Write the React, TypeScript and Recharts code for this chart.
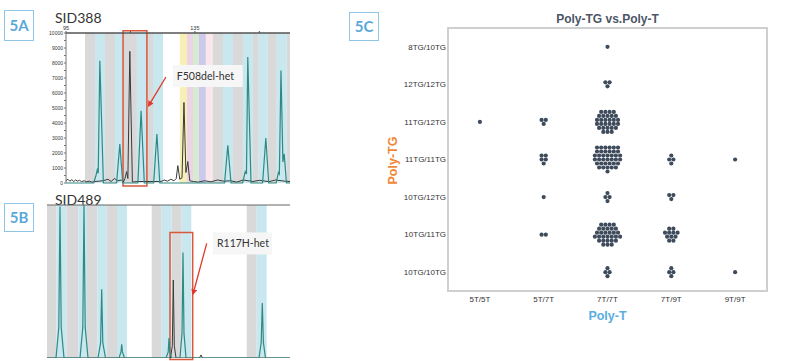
import React from 'react';
import {
  ComposedChart, Line, XAxis, YAxis, ReferenceArea, ReferenceLine, ReferenceDot,
  ScatterChart, Scatter,
} from 'recharts';

// ---------- 5A : SID388 ----------
const sizeTicksA = [95, 115, 135, 155];
const sizeLabelsA = [95, 135];
const rfuTicksA = [0, 500, 1000, 1500, 2000, 2500, 3000, 3500, 4000, 4500, 5000,
  5500, 6000, 6500, 7000, 7500, 8000, 8500, 9000, 9500, 10000];

// bins: [from, to, kind]
const binsA: [number, number, string][] = [
  [100.9, 104.0, 'gray'], [104.0, 107.1, 'cyan'], [107.1, 110.2, 'gray'], [110.2, 112.7, 'cyan'],
  [112.7, 117.0, 'gray'], [117.0, 120.1, 'cyan'], [120.1, 122.0, 'gray'], [122.0, 125.1, 'cyan'],
  [130.3, 132.5, 'yellow'], [132.5, 134.4, 'pink'], [134.4, 136.2, 'green'], [136.2, 138.4, 'purple'],
  [138.4, 140.6, 'blush'], [140.6, 143.7, 'gray'], [143.7, 146.8, 'cyan'], [146.8, 149.9, 'gray'],
  [149.9, 153.0, 'cyan'], [153.0, 154.8, 'gray'], [154.8, 157.6, 'cyan'], [157.6, 160.4, 'gray'],
  [160.4, 163.5, 'cyan'], [163.5, 164.5, 'gray'],
];

// trace points: [size, rfu]
const tealA: [number, number][] = [
  [95, 0], [103.6, 0], [104.3, 500], [104.7, 870], [105.0, 650], [105.5, 8150], [106.6, 0],
  [110.7, 0], [111.7, 2600], [112.6, 0],
  [117.3, 0], [118.3, 4810], [119.3, 0],
  [122.2, 0], [123.2, 3270], [124.1, 0],
  [144.2, 0], [145.2, 2520], [146.2, 0],
  [149.8, 0], [150.6, 760], [151.0, 600], [151.4, 8400], [152.4, 0],
  [156.0, 0], [157.0, 3000], [157.9, 0],
  [160.2, 0], [160.9, 700], [161.2, 600], [161.7, 7500], [162.3, 1400], [162.7, 1940], [163.4, 0],
  [164.5, 0],
];
const blackA: [number, number][] = [
  [95, 150], [95.6, 250], [96.2, 120], [96.8, 220], [97.4, 100], [98, 200], [98.6, 120],
  [99.2, 180], [99.8, 90], [100.6, 150], [101.4, 80], [102.2, 120], [103, 60], [104, 100],
  [106.5, 150], [108, 250], [109, 100], [110, 300], [111, 150], [112.2, 200], [112.8, 60],
  [113.3, 300], [113.8, 760], [114.2, 300], [114.8, 8775], [115.6, 60], [117, 100],
  [124.5, 100], [125.5, 200], [126.5, 120], [127.5, 250], [128.5, 150], [129.2, 300],
  [129.7, 1160], [130.3, 250], [131.0, 350], [131.6, 5370], [132.2, 700], [132.8, 1430],
  [133.4, 150], [134.5, 100], [136, 60], [138, 150], [140, 80], [142, 200], [144, 120],
  [146, 150], [148, 60], [150, 200], [153, 100], [155, 180], [158, 90], [160, 200],
  [163, 120], [164.5, 100],
];
const boxA = { x1: 112.7, x2: 120.1, y1: -200, y2: 10150 };
const noteA = { text: 'F508del-het', x: 139.0, y: 7133, w: 70 };
const arrowA = [{ x: 126.0, y: 7067 }, { x: 120.4, y: 5067 }];

// ---------- 5B : SID489 ----------
const binsB: [number, number, string][] = [
  [0, 9.5, 'gray'], [9.5, 19.5, 'cyan'], [19.5, 31.3, 'gray'], [31.3, 40, 'cyan'],
  [40, 50.3, 'gray'], [50.3, 59.7, 'cyan'], [59.7, 70, 'gray'], [70, 80, 'cyan'],
  [104.7, 114.7, 'gray'], [114.7, 124.7, 'cyan'], [124.7, 134.7, 'gray'], [134.7, 144.3, 'cyan'],
  [199.7, 209.7, 'gray'], [209.7, 219.7, 'cyan'],
];
const tealB: [number, number][] = [
  [0, 0], [9, 0], [11.8, 20], [13, 99], [14.2, 20], [17, 0],
  [33, 0], [35.8, 20], [37, 100], [38.2, 20], [41, 0],
  [51, 0], [53.6, 10], [54.7, 45], [55.8, 10], [58.5, 0],
  [72, 0], [74, 4], [74.7, 9], [75.4, 4], [77.5, 0],
  [119, 0], [121.2, 4], [122, 13], [122.8, 4], [124.5, 0],
  [133, 0], [135, 16], [136, 69], [137, 16], [139, 0],
  [212, 0], [214.2, 10], [215.3, 36], [216.4, 10], [218.5, 0], [243, 0],
];
const blackB: [number, number][] = [
  [0, 0], [123.5, 0], [125.3, 8], [126.3, 51], [127.3, 8], [129, 0],
  [152.5, 0], [154, 2], [155.5, 0], [243, 0],
];
const boxB = { x1: 123, x2: 145.7, y1: -1, y2: 82 };
const noteB = { text: 'R117H-het', x: 195.5, y: 74.9, w: 59 };
const arrowB = [{ x: 159.7, y: 74.9 }, { x: 145.7, y: 41 }];

// ---------- 5C : Poly-TG vs Poly-T ----------
const polyT = ['5T/5T', '5T/7T', '7T/7T', '7T/9T', '9T/9T'];
const polyTG = ['10TG/10TG', '10TG/11TG', '10TG/12TG', '11TG/11TG', '11TG/12TG', '12TG/12TG', '8TG/10TG'];
// samples per cell, counted row by row from the top of each swarm
const swarmCells: [string, string, number[]][] = [
  ['7T/7T', '8TG/10TG', [1]],
  ['7T/7T', '12TG/12TG', [2, 1]],
  ['5T/5T', '11TG/12TG', [1]],
  ['5T/7T', '11TG/12TG', [2, 1]],
  ['7T/7T', '11TG/12TG', [4, 5, 6, 6, 5, 3]],
  ['5T/7T', '11TG/11TG', [2, 2, 1]],
  ['7T/7T', '11TG/11TG', [6, 6, 7, 7, 6, 5, 1]],
  ['7T/9T', '11TG/11TG', [1, 2, 1]],
  ['9T/9T', '11TG/11TG', [1]],
  ['5T/7T', '10TG/12TG', [1]],
  ['7T/7T', '10TG/12TG', [1, 2, 1]],
  ['7T/9T', '10TG/12TG', [2, 1]],
  ['5T/7T', '10TG/11TG', [2]],
  ['7T/7T', '10TG/11TG', [4, 5, 6, 7, 5, 3]],
  ['7T/9T', '10TG/11TG', [2, 4, 3, 2]],
  ['7T/7T', '10TG/10TG', [1, 2, 1]],
  ['7T/9T', '10TG/10TG', [1, 2, 1]],
  ['9T/9T', '10TG/10TG', [1]],
];

const binColors: Record<string, string> = {
  gray: '#d9d9d9', cyan: '#c9e7ef', yellow: '#f7efb4', pink: '#ecd4e6',
  green: '#d6ebcf', purple: '#cdc9ea', blush: '#f9e7eb',
};

const toPts = (arr: [number, number][]) => arr.map(([x, y]) => ({ x, y }));

// hex-ish swarm: each row centred on the category, 4.2px apart
const DOT_STEP_X = 4.2;
const DOT_STEP_Y = 4;
const swarmPoints = swarmCells.flatMap(([t, tg, rows]) => {
  const x = polyT.indexOf(t);
  const y = polyTG.indexOf(tg);
  return rows.flatMap((n, r) =>
    Array.from({ length: n }, (_, j) => ({
      x, y,
      dx: (j - (n - 1) / 2) * DOT_STEP_X,
      dy: (r - (rows.length - 1) / 2) * DOT_STEP_Y,
    })));
});

const SwarmDot = (p: any) => {
  const d = p.payload || p;
  return <circle cx={p.cx + d.dx} cy={p.cy + d.dy} r={2.1} fill="#3e4b5c" />;
};

const RedArrow = (p: any) => {
  const { x1, y1, x2, y2 } = p;
  const a = Math.atan2(y2 - y1, x2 - x1);
  const L = 6, W = 3;
  const bx = x2 - L * Math.cos(a), by = y2 - L * Math.sin(a);
  const pts = `${x2},${y2} ${bx + W * Math.sin(a)},${by - W * Math.cos(a)} ${bx - W * Math.sin(a)},${by + W * Math.cos(a)}`;
  return (
    <g>
      <line x1={x1} y1={y1} x2={bx} y2={by} stroke="#e3372b" strokeWidth={1.3} />
      <polygon points={pts} fill="#e3372b" />
    </g>
  );
};

const noteShape = (text: string, w: number) => (p: any) => (
  <g>
    <rect x={p.cx - w / 2} y={p.cy - 11} width={w} height={22} fill="#f6f6f6" />
    <text x={p.cx - w / 2 + 4} y={p.cy + 4} fontSize={10.5} fontFamily="Lato" fill="#333">{text}</text>
  </g>
);

const PanelTag = ({ label, left, top, h }: { label: string; left: number; top: number; h: number }) => (
  <div style={{
    position: 'absolute', left, top, width: 28, height: h, border: '1.5px solid #8fc6e8',
    color: '#5aa8da', fontFamily: 'Lato', fontWeight: 700, fontSize: 15, lineHeight: `${h}px`,
    textAlign: 'center',
  }}>{label}</div>
);

const SidText = ({ text, top }: { text: string; top: number }) => (
  <div style={{ position: 'absolute', left: 55, top, fontFamily: 'Lato', fontSize: 14, lineHeight: '14px', color: '#333' }}>
    {text}
  </div>
);

export default function App() {
  return (
    <div style={{
      position: 'absolute', left: 0, top: 0, width: 785, height: 361, background: '#fff',
      overflow: 'hidden', fontFamily: '"Liberation Sans", Arial, sans-serif',
    }}>
      <PanelTag label="5A" left={4} top={10} h={29} />
      <SidText text="SID388" top={11} />
      <div style={{ position: 'absolute', left: 0, top: 0 }}>
        <ComposedChart width={300} height={190} margin={{ top: 25, right: 10, bottom: 7, left: 30 }}>
          <XAxis
            xAxisId={0} orientation="top" type="number" dataKey="x" domain={[95, 164.5]}
            ticks={sizeTicksA} tickFormatter={(v: number) => (sizeLabelsA.includes(v) ? String(v) : '')}
            height={8} tickSize={2} tickMargin={1} tick={{ fontSize: 5.5, fill: '#333' }}
            axisLine={{ stroke: '#555', strokeWidth: 1.5 }} tickLine={{ stroke: '#555' }}
          />
          <YAxis
            type="number" domain={[0, 10000]} ticks={rfuTicksA} width={36}
            tickFormatter={(v: number) => (v % 1000 === 0 ? String(v) : '')}
            tickSize={2} tickMargin={1} tick={{ fontSize: 5, fill: '#333' }}
            axisLine={{ stroke: '#777' }} tickLine={{ stroke: '#777' }} interval={0}
          />
          {binsA.map(([a, b, k], i) => (
            <ReferenceArea key={`a${i}`} x1={a} x2={b} y1={0} y2={10000} fill={binColors[k]} fillOpacity={1} stroke="none" />
          ))}
          <Line data={toPts(blackA)} dataKey="y" type="linear" stroke="#3a3a3a" strokeWidth={1} dot={false} isAnimationActive={false} />
          <Line data={toPts(tealA)} dataKey="y" type="linear" stroke="#2f8a84" strokeWidth={1.2} dot={false} isAnimationActive={false} />
          <ReferenceArea {...boxA} ifOverflow="visible" fill="none" stroke="#d9573b" strokeWidth={1.5} />
          <ReferenceLine segment={arrowA} ifOverflow="visible" shape={RedArrow} />
          <ReferenceDot x={noteA.x} y={noteA.y} ifOverflow="visible" shape={noteShape(noteA.text, noteA.w)} />
        </ComposedChart>
      </div>

      <PanelTag label="5B" left={4} top={203} h={27} />
      <SidText text="SID489" top={193} />
      <div style={{ position: 'absolute', left: 0, top: 195 }}>
        <ComposedChart width={300} height={166} margin={{ top: 9, right: 10, bottom: 3, left: 47 }}>
          <XAxis
            orientation="top" type="number" dataKey="x" domain={[0, 243]} height={1}
            tick={false} tickLine={false} axisLine={{ stroke: '#666' }}
          />
          <YAxis type="number" domain={[0, 100]} hide allowDataOverflow />
          {binsB.map(([a, b, k], i) => (
            <ReferenceArea key={`b${i}`} x1={a} x2={b} y1={0} y2={100} fill={binColors[k]} fillOpacity={1} stroke="none" />
          ))}
          <Line data={toPts(blackB)} dataKey="y" type="linear" stroke="#3a3a3a" strokeWidth={1} dot={false} isAnimationActive={false} />
          <Line data={toPts(tealB)} dataKey="y" type="linear" stroke="#2f8a84" strokeWidth={1.2} dot={false} isAnimationActive={false} />
          <ReferenceArea {...boxB} ifOverflow="visible" fill="none" stroke="#d9573b" strokeWidth={1.5} />
          <ReferenceLine segment={arrowB} ifOverflow="visible" shape={RedArrow} />
          <ReferenceDot x={noteB.x} y={noteB.y} ifOverflow="visible" shape={noteShape(noteB.text, noteB.w)} />
        </ComposedChart>
      </div>

      <PanelTag label="5C" left={349} top={12} h={27} />
      <div style={{
        position: 'absolute', left: 448, width: 319, top: 12.5, textAlign: 'center', fontWeight: 700,
        fontSize: 12, lineHeight: '12px', color: '#4d5666',
      }}>Poly-TG vs.Poly-T</div>
      <div style={{
        position: 'absolute', left: 448, width: 319, top: 310, textAlign: 'center', fontWeight: 700,
        fontSize: 12.5, lineHeight: '13px', color: '#5aaee0',
      }}>Poly-T</div>
      <div style={{
        position: 'absolute', left: 352.5, width: 80, top: 153.5, textAlign: 'center', fontWeight: 700,
        fontSize: 12.5, lineHeight: '13px', color: '#f08838', transform: 'rotate(-90deg)',
      }}>Poly-TG</div>
      <div style={{ position: 'absolute', left: 340, top: 0 }}>
        <ScatterChart width={445} height={361} margin={{ top: 28, right: 18, bottom: 40, left: 48 }}>
          <XAxis
            type="number" dataKey="x" domain={[-0.5, 4.5]} ticks={[0, 1, 2, 3, 4]} interval={0}
            tickFormatter={(i: number) => polyT[i]} height={30} axisLine={false} tickLine={false}
            tickSize={0} tickMargin={5} tick={{ fontSize: 8, fill: '#333' }}
          />
          <YAxis
            type="number" dataKey="y" domain={[-0.5, 6.5]} ticks={[0, 1, 2, 3, 4, 5, 6]} interval={0}
            tickFormatter={(i: number) => polyTG[i]} width={60} axisLine={false} tickLine={false}
            tickSize={0} tickMargin={2} tick={{ fontSize: 8, fill: '#333' }}
          />
          <ReferenceArea x1={-0.5} x2={4.5} y1={-0.5} y2={6.5} fill="none" stroke="#cfcfcf" strokeWidth={2} />
          <Scatter data={swarmPoints} shape={SwarmDot} isAnimationActive={false} />
        </ScatterChart>
      </div>
    </div>
  );
}
